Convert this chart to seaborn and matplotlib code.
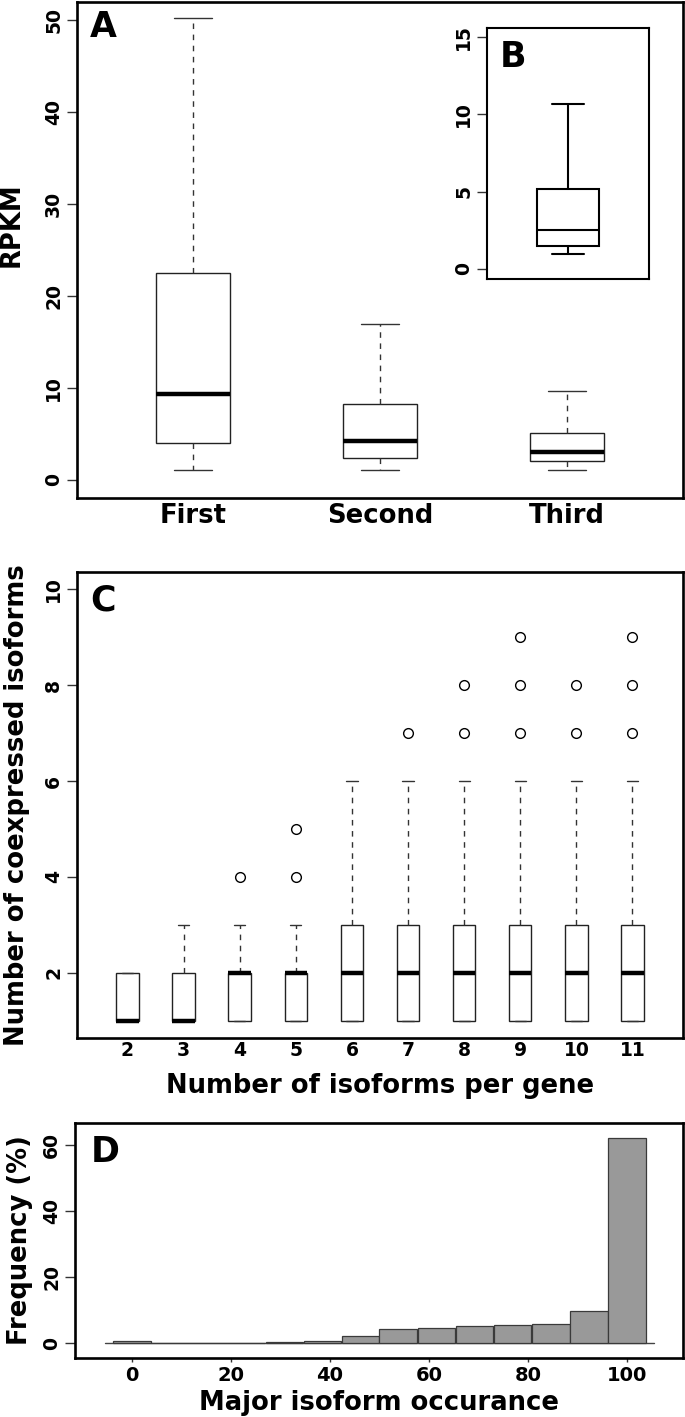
import numpy as np
import pandas as pd
import matplotlib
matplotlib.use("Agg")
import matplotlib.pyplot as plt
import seaborn as sns

sns.set_theme(style="white")
plt.rcParams['font.family'] = ['DejaVu Sans']
plt.rcParams['font.weight'] = 'bold'
for k in ["text.color", "axes.labelcolor", "xtick.color", "ytick.color", "axes.edgecolor"]:
    plt.rcParams[k] = "black"

# ---------------- Data ----------------
# Panel A: RPKM of first/second/third isoforms (box statistics)
a_groups = ["First", "Second", "Third"]
a_whislo = [1.0, 1.0, 1.0]
a_q1 = [4.0, 2.4, 2.0]
a_med = [9.3, 4.2, 3.0]
a_q3 = [22.5, 8.2, 5.1]
a_whishi = [50.3, 16.9, 9.7]
a_yticks = [0, 10, 20, 30, 40, 50]

# Panel B: inset box
b_whislo = [1.0]
b_q1 = [1.5]
b_med = [2.5]
b_q3 = [5.15]
b_whishi = [10.7]
b_yticks = [0, 5, 10, 15]

# Panel C: coexpressed isoforms per number of isoforms
c_groups = ["2", "3", "4", "5", "6", "7", "8", "9", "10", "11"]
c_whislo = [1, 1, 1, 1, 1, 1, 1, 1, 1, 1]
c_q1 = [1, 1, 1, 1, 1, 1, 1, 1, 1, 1]
c_med = [1, 1, 2, 2, 2, 2, 2, 2, 2, 2]
c_q3 = [2, 2, 2, 2, 3, 3, 3, 3, 3, 3]
c_whishi = [2, 3, 3, 3, 6, 6, 6, 6, 6, 6]
c_outliers = [[], [], [4], [4, 5], [], [7], [7, 8], [7, 8, 9], [7, 8], [7, 8, 9]]
c_yticks = [2, 4, 6, 8, 10]

# Panel D: major isoform occurrence histogram
d_occurrence = [0, 7.7, 15.4, 23.1, 30.8, 38.5, 46.2, 53.8, 61.5, 69.2, 76.9, 84.6, 92.3, 100]
d_freq = [0.5, 0.05, 0.05, 0.05, 0.2, 0.7, 2.2, 4.2, 4.6, 5.2, 5.5, 5.8, 9.8, 62.3]
d_xticks = [0, 20, 40, 60, 80, 100]
d_yticks = [0, 20, 40, 60]

# ---------------- Layout ----------------
W, H = 685, 1417
fig = plt.figure(figsize=(W / 100, H / 100), dpi=100)
fig.patch.set_facecolor("white")


def rect(l, t, r, b):
    return [l / W, 1 - b / H, (r - l) / W, (b - t) / H]


axA = fig.add_axes(rect(77, 2, 683, 498))
axB = fig.add_axes(rect(487, 28, 649, 279))
axC = fig.add_axes(rect(77, 572, 683, 1038))
axD = fig.add_axes(rect(75, 1123, 683, 1358))

LAB = 18.6      # axis label size
TICK = 13.5     # numeric tick label size
LETTER = 25


def stats_list(lo, q1, med, q3, hi, fl=None, labels=None):
    out = []
    for i in range(len(med)):
        out.append(dict(whislo=lo[i], q1=q1[i], med=med[i], q3=q3[i], whishi=hi[i],
                        fliers=(fl[i] if fl is not None else []),
                        label=(labels[i] if labels is not None else "")))
    return out


def style_frame(ax, lw):
    for s in ax.spines.values():
        s.set_visible(True)
        s.set_color("black")
        s.set_linewidth(lw)
    ax.set_facecolor("white")
    ax.grid(False)


def style_yticks(ax, ticks, size):
    ax.set_yticks(ticks)
    ax.set_yticklabels([str(t) for t in ticks], rotation=90, va="center",
                       fontsize=size, fontweight="bold")
    ax.tick_params(axis="y", left=True, direction="out", length=7, width=1,
                   color="#333333", pad=3)


dash = (0, (4, 4))

# ---- Panel A ----
axA.bxp(stats_list(a_whislo, a_q1, a_med, a_q3, a_whishi),
        positions=[0, 1, 2], widths=0.4, capwidths=0.2, showfliers=False,
        patch_artist=True,
        boxprops=dict(facecolor="white", edgecolor="#222222", linewidth=1.0),
        medianprops=dict(color="black", linewidth=3.2, solid_capstyle="butt"),
        whiskerprops=dict(color="#333333", linewidth=1.0, linestyle=dash),
        capprops=dict(color="#333333", linewidth=1.0))
axA.set_xlim(-0.62, 2.62)
axA.set_ylim(-2, 52)
style_frame(axA, 1.9)
style_yticks(axA, a_yticks, TICK)
axA.set_xticks([0, 1, 2])
axA.set_xticklabels(a_groups, fontsize=LAB, fontweight="bold")
axA.tick_params(axis="x", bottom=False, length=0, pad=3.5)
axA.set_ylabel("RPKM", fontsize=LAB, fontweight="bold", va="center")
axA.yaxis.set_label_coords((12 - 77) / 606, 1 - (225 - 2) / 496)
axA.text(0.043, 0.95, "A", transform=axA.transAxes, ha="center", va="center",
         fontsize=LETTER, fontweight="bold")

# ---- Panel B ----
axB.bxp(stats_list(b_whislo, b_q1, b_med, b_q3, b_whishi),
        positions=[1], widths=0.41, capwidths=0.21, showfliers=False,
        patch_artist=True,
        boxprops=dict(facecolor="white", edgecolor="black", linewidth=1.5),
        medianprops=dict(color="black", linewidth=1.5),
        whiskerprops=dict(color="black", linewidth=1.5, linestyle="-"),
        capprops=dict(color="black", linewidth=1.5))
axB.set_xlim(0.46, 1.54)
axB.set_ylim(-0.65, 15.6)
style_frame(axB, 1.5)
style_yticks(axB, b_yticks, TICK)
axB.set_xticks([])
axB.text(0.16, 0.884, "B", transform=axB.transAxes, ha="center", va="center",
         fontsize=LETTER, fontweight="bold")

# ---- Panel C ----
axC.bxp(stats_list(c_whislo, c_q1, c_med, c_q3, c_whishi, c_outliers, c_groups),
        positions=list(range(len(c_groups))), widths=0.4, capwidths=0.2,
        showfliers=True, patch_artist=True,
        boxprops=dict(facecolor="white", edgecolor="#222222", linewidth=1.0),
        medianprops=dict(color="black", linewidth=3.2, solid_capstyle="butt"),
        whiskerprops=dict(color="#333333", linewidth=1.0, linestyle=dash),
        capprops=dict(color="#333333", linewidth=1.0),
        flierprops=dict(marker="o", markerfacecolor="none", markeredgecolor="black",
                        markersize=7, markeredgewidth=1.0))
axC.set_xlim(-0.9, len(c_groups) - 0.1)
axC.set_ylim(0.64, 10.36)
style_frame(axC, 1.9)
style_yticks(axC, c_yticks, TICK)
axC.set_xticks(range(len(c_groups)))
axC.set_xticklabels(c_groups, fontsize=TICK, fontweight="bold")
axC.tick_params(axis="x", bottom=False, length=0, pad=2)
axC.set_ylabel("Number of coexpressed isoforms", fontsize=LAB, fontweight="bold",
               va="center")
axC.yaxis.set_label_coords((17 - 77) / 606, 0.5)
axC.set_xlabel("Number of isoforms per gene", fontsize=LAB, fontweight="bold",
               va="baseline")
axC.xaxis.set_label_coords(0.5, (1038 - 1093) / 466)
axC.text(0.043, 0.938, "C", transform=axC.transAxes, ha="center", va="center",
         fontsize=LETTER, fontweight="bold")

# ---- Panel D ----
dfD = pd.DataFrame({"occ": d_occurrence, "freq": d_freq})
sns.barplot(data=dfD, x="occ", y="freq", native_scale=True, width=1.0,
            color="#999999", saturation=1, edgecolor="#3a3a3a", linewidth=0.9,
            errorbar=None, ax=axD)
binw = d_occurrence[1] - d_occurrence[0]
axD.set_xlim(-11.5, 111.3)
axD.set_ylim(-4.5, 66.7)
x0 = (min(d_occurrence) - 0.7 * binw - (-11.5)) / (111.3 + 11.5)
x1 = (max(d_occurrence) + 0.7 * binw - (-11.5)) / (111.3 + 11.5)
axD.axhline(0, x0, x1, color="#444444", linewidth=1.0, zorder=0.5)
style_frame(axD, 1.9)
style_yticks(axD, d_yticks, TICK)
axD.set_xticks(d_xticks)
axD.set_xticklabels([str(t) for t in d_xticks], fontsize=14, fontweight="bold")
axD.tick_params(axis="x", bottom=True, direction="out", length=3, width=1,
                color="#333333", pad=3)
axD.set_ylabel("Frequency (%)", fontsize=LAB, fontweight="bold", va="center")
axD.yaxis.set_label_coords((20 - 75) / 608, 0.5)
axD.set_xlabel("Major isoform occurance", fontsize=LAB, fontweight="bold",
               va="baseline")
axD.xaxis.set_label_coords(0.5, (1358 - 1410) / 235)
axD.text(0.049, 0.877, "D", transform=axD.transAxes, ha="center", va="center",
         fontsize=LETTER, fontweight="bold")

fig.savefig("out.png", dpi=100, facecolor="white")
